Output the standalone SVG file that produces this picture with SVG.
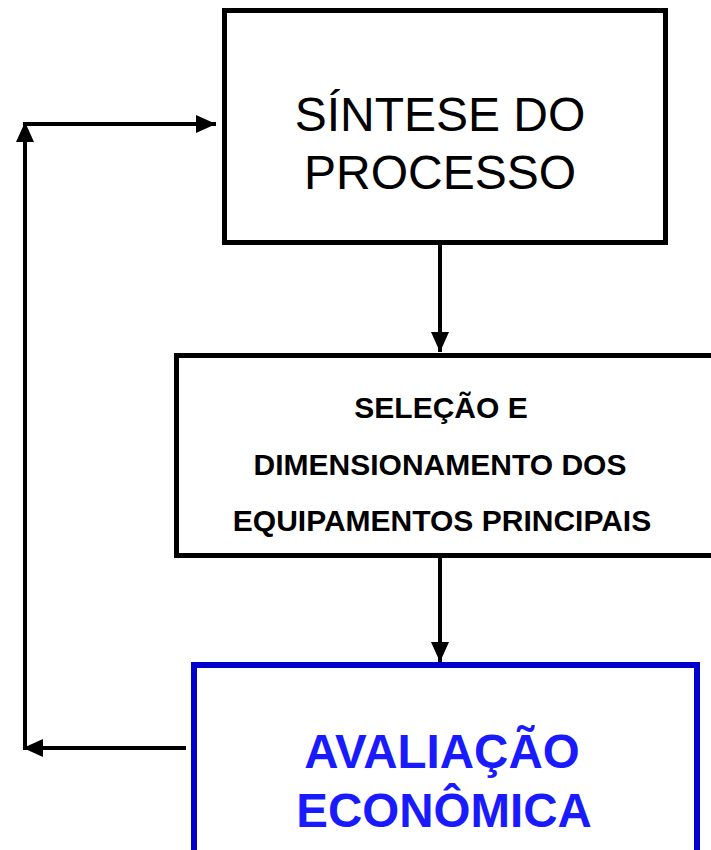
<svg xmlns="http://www.w3.org/2000/svg" width="711" height="850" viewBox="0 0 711 850">
<style>
.box{fill:#fff;stroke:#000;stroke-width:5}
.bbox{fill:#fff;stroke:#0000CC;stroke-width:6}
.big{font-family:"Liberation Sans",Arial,sans-serif;font-size:48px;fill:#000;text-anchor:middle}
.mid{font-family:"Liberation Sans",Arial,sans-serif;font-size:30px;font-weight:bold;fill:#000;text-anchor:middle}
.blue{font-family:"Liberation Sans",Arial,sans-serif;font-size:47.5px;font-weight:bold;fill:#1A1AFF;text-anchor:middle}
.conn{fill:none;stroke:#000;stroke-width:4}
</style>
<defs>
<marker id="ah" markerUnits="userSpaceOnUse" markerWidth="22" markerHeight="20" refX="20" refY="9" orient="auto">
<path d="M0,0 L20,9 L0,18 Z" fill="#000"/>
</marker>
</defs>
<g id="connectors">
<line class="conn" x1="440" y1="243" x2="440" y2="352" marker-end="url(#ah)"/>
<line class="conn" x1="440" y1="557" x2="440" y2="662" marker-end="url(#ah)"/>
<line class="conn" x1="186" y1="748" x2="23" y2="748" marker-end="url(#ah)"/>
<line class="conn" x1="25" y1="750" x2="25" y2="122" marker-end="url(#ah)"/>
<line class="conn" x1="23" y1="124" x2="216" y2="124" marker-end="url(#ah)"/>
</g>
<g id="sintese">
<rect class="box" x="224.5" y="10.5" width="441" height="232"/>
<text class="big" x="440" y="131">SÍNTESE DO</text>
<text class="big" x="440" y="189">PROCESSO</text>
</g>
<g id="selecao">
<rect class="box" x="176.5" y="355.5" width="545" height="200"/>
<text class="mid" x="441" y="418">SELEÇÃO E</text>
<text class="mid" x="440" y="475">DIMENSIONAMENTO DOS</text>
<text class="mid" x="442" y="531">EQUIPAMENTOS PRINCIPAIS</text>
</g>
<g id="avaliacao">
<rect class="bbox" x="194" y="665" width="503" height="200"/>
<text class="blue" x="442" y="768">AVALIAÇÃO</text>
<text class="blue" x="444" y="827">ECONÔMICA</text>
</g>
</svg>
